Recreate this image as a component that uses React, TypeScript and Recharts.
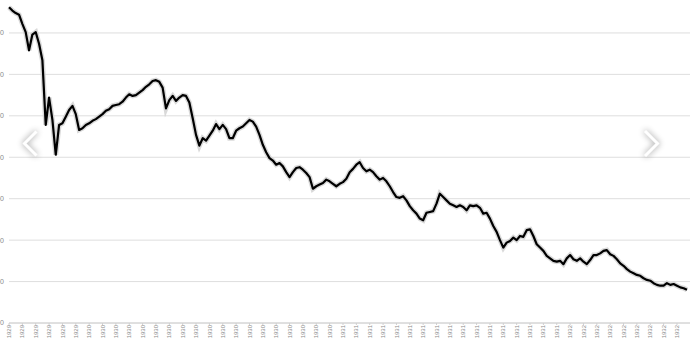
// Dow Jones closes, Sep 1929 - Jul 1932, as a cropped line chart with slider arrows.
import { CartesianGrid, Line, LineChart, XAxis, YAxis } from 'recharts'

const dow = [
  381, 377, 374, 372, 361, 351, 329, 348, 351, 337,
  317, 239, 272, 245, 203, 239, 241, 249, 257, 262,
  252, 233, 235, 239, 241, 244, 246, 249, 252, 256,
  258, 262, 263, 264, 267, 272, 276, 274, 275, 278,
  281, 285, 288, 292, 293, 291, 284, 259, 269, 274,
  268, 272, 275, 274, 266, 247, 227, 214, 223, 220,
  226, 232, 240, 234, 239, 234, 223, 223, 232, 235,
  237, 241, 245, 243, 237, 227, 215, 206, 199, 196,
  191, 193, 189, 182, 176, 182, 187, 188, 185, 181,
  176, 162, 165, 167, 169, 173, 171, 168, 165, 168,
  170, 174, 182, 186, 191, 194, 187, 183, 185, 182,
  177, 173, 175, 171, 165, 158, 152, 151, 153, 148,
  141, 136, 132, 126, 124, 133, 134, 135, 144, 156,
  152, 148, 144, 142, 140, 142, 140, 136, 142, 141,
  142, 139, 132, 133, 126, 117, 110, 100, 91, 97,
  99, 103, 100, 105, 104, 112, 113, 105, 95, 91,
  87, 81, 78, 75, 74, 75, 71, 78, 82, 77,
  75, 78, 74, 71, 76, 82, 82, 84, 87, 88,
  83, 81, 77, 72, 69, 65, 62, 60, 58, 57,
  54, 52, 51, 48, 46, 45, 45, 48, 46, 47,
  45, 43, 42, 40,
]

const years = ['1929', '1930', '1931', '1932']
const yearFirstIndex = [0, 24, 100, 168]
const yTicks = [0, 50, 100, 150, 200, 250, 300, 350, 400]

function yearAt(i: number) {
  let y = years[0]
  yearFirstIndex.forEach((start, k) => {
    if (i >= start) y = years[k]
  })
  return y
}

const data = dow.map((close, i) => ({ label: yearAt(i), close }))

const FONT = '"Liberation Sans", Arial, sans-serif'

function YearTick({ x, y, payload }: any) {
  return (
    <text
      x={0}
      y={0}
      transform={`translate(${x},${y}) rotate(-90)`}
      textAnchor="end"
      dy="0.35em"
      fontSize={6}
      fill="#8a8a8a"
      fontFamily={FONT}
    >
      {payload.value}
    </text>
  )
}

export default function App() {
  return (
    <div
      style={{
        position: 'fixed',
        left: 0,
        top: 0,
        width: 690,
        height: 340,
        overflow: 'hidden',
        background: '#fff',
      }}
    >
      <div style={{ position: 'absolute', left: -31.5, top: -30 }}>
        <LineChart width={728} height={383} data={data} margin={{ top: 21.5, right: 0, bottom: 0, left: 0 }}>
          <CartesianGrid vertical={false} stroke="#dedede" />
          <XAxis
            dataKey="label"
            interval={3}
            height={30}
            padding={{ left: 0, right: 10 }}
            tick={<YearTick />}
            tickSize={2}
            tickMargin={0}
            tickLine={{ stroke: '#d0d0d0' }}
            axisLine={{ stroke: '#d0d0d0' }}
          />
          <YAxis
            domain={[0, 400]}
            ticks={yTicks}
            width={40}
            tickSize={3}
            tickMargin={2}
            tickLine={false}
            axisLine={false}
            tick={{ fontSize: 7, fill: '#8a8a8a', fontFamily: FONT }}
          />
          <Line
            dataKey="close"
            type="linear"
            stroke="#cfcfcf"
            strokeOpacity={0.8}
            strokeWidth={5}
            dot={false}
            activeDot={false}
            isAnimationActive={false}
          />
          <Line
            dataKey="close"
            type="linear"
            stroke="#000"
            strokeWidth={2.2}
            strokeLinejoin="round"
            dot={false}
            activeDot={false}
            isAnimationActive={false}
          />
        </LineChart>
      </div>
      <svg width={690} height={340} style={{ position: 'absolute', left: 0, top: 0, pointerEvents: 'none' }}>
        <polyline
          points="36.5,131.5 24.5,143.5 36.5,155.5"
          fill="none"
          stroke="#fff"
          strokeWidth={3}
          style={{ filter: 'drop-shadow(0 0 3px rgba(0,0,0,0.45))' }}
        />
        <polyline
          points="645,131 657.5,143.5 645,156"
          fill="none"
          stroke="#fff"
          strokeWidth={3}
          style={{ filter: 'drop-shadow(0 0 3px rgba(0,0,0,0.45))' }}
        />
      </svg>
    </div>
  )
}
